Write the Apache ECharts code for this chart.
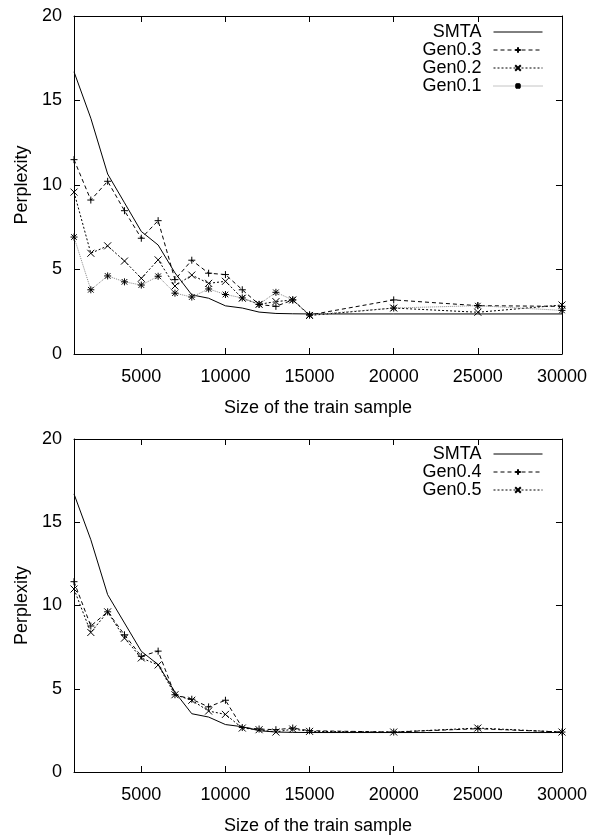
<!DOCTYPE html>
<html>
<head>
<meta charset="utf-8">
<script src="https://cdn.jsdelivr.net/npm/echarts@6/dist/echarts.min.js"></script>
<style>
html,body{margin:0;padding:0;background:#fff;}
#chart{width:590px;height:836px;}
</style>
</head>
<body>
<div id="chart"></div>
<script>
// ---- data ----
var trainSizes = [1000,2000,3000,4000,5000,6000,7000,8000,9000,10000,11000,12000,13000,14000,15000,20000,25000,30000];
var smta  = [16.7,13.95,10.65,8.95,7.25,6.45,4.8,3.5,3.3,2.85,2.72,2.48,2.4,2.38,2.37,2.37,2.37,2.37];
var gen03 = [11.5,9.11,10.22,8.48,6.85,7.89,4.4,5.55,4.78,4.7,3.8,2.93,2.82,3.2,2.31,3.2,2.86,2.82];
var gen02 = [9.58,5.96,6.4,5.5,4.48,5.57,4.02,4.67,4.18,4.3,3.3,2.94,3.1,3.2,2.28,2.72,2.47,2.9];
var gen01 = [6.92,3.8,4.62,4.27,4.08,4.6,3.6,3.37,3.85,3.52,3.32,2.94,3.65,3.2,2.31,2.72,2.86,2.58];
var gen04 = [11.43,8.77,9.62,8.24,6.95,7.26,4.64,4.37,3.91,4.31,2.67,2.58,2.54,2.64,2.48,2.4,2.6,2.4];
var gen05 = [10.99,8.38,9.62,8.04,6.85,6.43,4.64,4.31,3.66,3.46,2.64,2.54,2.4,2.58,2.44,2.4,2.64,2.4];
var xTickValues = [5000,10000,15000,20000,25000,30000];
var xAxisTitle = 'Size of the train sample';
var yAxisTitle = 'Perplexity';
var legendTop = ['SMTA','Gen0.3','Gen0.2','Gen0.1'];
var legendBottom = ['SMTA','Gen0.4','Gen0.5'];

// ---- chart ----
var FONT = 'Liberation Sans, Arial, Helvetica, sans-serif';
var FS = 18;
var BLACK = '#000';
var SYM_PLUS = 'path://M5,0L5,10M0,5L10,5';
var SYM_CROSS = 'path://M0,0L10,10M10,0L0,10';
var SYM_STAR = 'path://M5,0L5,10M0,5L10,5M1,1L9,9M9,1L1,9';

function pairs(vals){ return trainSizes.map(function(x,i){ return [x, vals[i]]; }); }

function xAxes(g){
  var common = {
    gridIndex:g, type:'value', min:1000, max:30000,
    axisLine:{show:true, onZero:false, lineStyle:{color:BLACK, width:1}},
    axisTick:{show:true, inside:true, length:6, customValues:xTickValues, lineStyle:{color:BLACK, width:1}},
    splitLine:{show:false}
  };
  var bottom = Object.assign({}, common, {
    position:'bottom',
    axisLabel:{show:true, customValues:xTickValues, margin:14, color:BLACK, fontSize:FS, fontFamily:FONT,
      formatter:function(v){ return String(v); }},
    name:xAxisTitle, nameLocation:'middle', nameGap:45,
    nameTextStyle:{color:BLACK, fontSize:FS, fontFamily:FONT}
  });
  var top = Object.assign({}, common, {position:'top', axisLabel:{show:false}});
  return [bottom, top];
}
function yAxes(g){
  var common = {
    gridIndex:g, type:'value', min:0, max:20, interval:5,
    axisLine:{show:true, onZero:false, lineStyle:{color:BLACK, width:1}},
    axisTick:{show:true, inside:true, length:6, lineStyle:{color:BLACK, width:1}},
    splitLine:{show:false}
  };
  var left = Object.assign({}, common, {
    position:'left',
    axisLabel:{show:true, margin:12, color:BLACK, fontSize:FS, fontFamily:FONT},
    name:yAxisTitle, nameLocation:'middle', nameGap:37,
    nameTextStyle:{color:BLACK, fontSize:FS, fontFamily:FONT}
  });
  var right = Object.assign({}, common, {position:'right', axisLabel:{show:false}});
  return [left, right];
}

function lineSeries(name, vals, g, symbol, lineColor, lineType, lineWidth){
  var s = {
    name:name, type:'line', xAxisIndex:g*2, yAxisIndex:g*2,
    data:pairs(vals), animation:false,
    lineStyle:{color:lineColor, width:lineWidth, type:lineType},
    emphasis:{disabled:true}
  };
  if (symbol){
    s.symbol = symbol; s.symbolSize = 7; s.showSymbol = true;
    s.itemStyle = {color:BLACK, borderColor:BLACK, borderWidth:1};
  } else {
    s.symbol = 'circle'; s.showSymbol = false; s.symbolSize = 0;
    s.itemStyle = {color:'rgba(0,0,0,0)', borderWidth:0};
  }
  return s;
}

function legend(data, top, lh){
  return {
    data:data, orient:'vertical', align:'right', right:47, top:top,
    padding:0, itemGap:0, itemWidth:49, itemHeight:7,
    selectedMode:false,
    lineStyle:{width:1},
    textStyle:{color:BLACK, fontSize:FS, fontFamily:FONT, lineHeight:lh, padding:[0,7,0,0]}
  };
}

var option = {
  animation:false,
  backgroundColor:'#fff',
  grid:[
    {left:74, top:16, width:490, height:338},
    {left:74, top:439, width:490, height:339}
  ],
  xAxis: xAxes(0).concat(xAxes(1)),
  yAxis: yAxes(0).concat(yAxes(1)),
  legend:[ legend(legendTop, 23, 17.6), legend(legendBottom, 445, 18) ],
  series:[
    lineSeries('SMTA', smta, 0, null, BLACK, 'solid', 1),
    lineSeries('Gen0.3', gen03, 0, SYM_PLUS, BLACK, [4,3], 1),
    lineSeries('Gen0.2', gen02, 0, SYM_CROSS, BLACK, [2,2], 1),
    lineSeries('Gen0.1', gen01, 0, SYM_STAR, '#888', [1,1], 1),
    lineSeries('SMTA', smta, 1, null, BLACK, 'solid', 1),
    lineSeries('Gen0.4', gen04, 1, SYM_PLUS, BLACK, [4,3], 1),
    lineSeries('Gen0.5', gen05, 1, SYM_CROSS, BLACK, [2,2], 1)
  ]
};

var chart = echarts.init(document.getElementById('chart'), null, {renderer:'canvas'});
chart.setOption(option);
</script>
</body>
</html>
